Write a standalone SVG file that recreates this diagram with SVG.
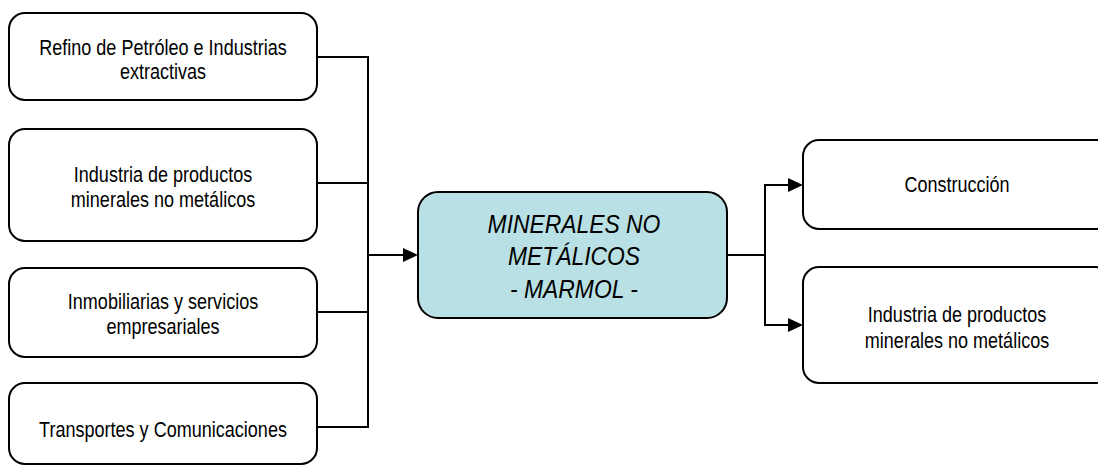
<svg xmlns="http://www.w3.org/2000/svg" width="1098" height="466" viewBox="0 0 1098 466">
<style>
.box{fill:#ffffff;stroke:#000000;stroke-width:2}
.center{fill:#b9e0e4;stroke:#000000;stroke-width:2}
.lbl{font-family:"Liberation Sans",Arial,sans-serif;font-size:22px;fill:#000000;text-anchor:middle}
.big{font-family:"Liberation Sans",Arial,sans-serif;font-size:26px;font-style:italic;fill:#000000;text-anchor:middle}
.ln{fill:none;stroke:#000000;stroke-width:2}
</style>
<rect width="1098" height="466" fill="#ffffff"/>
<g id="connectors">
<path class="ln" d="M317,57 H368 M317,183 H368 M317,312 H368 M317,427 H368 M368,56 V428"/>
<path class="ln" d="M368,255 H403"/>
<path d="M403,248 L418,255 L403,262 Z" fill="#000"/>
<path class="ln" d="M727,255 H765 M765,184 V326 M765,185 H790 M765,325 H790"/>
<path d="M788,178 L803,185 L788,192 Z" fill="#000"/>
<path d="M788,318 L803,325 L788,332 Z" fill="#000"/>
</g>
<g id="n1">
<rect class="box" x="9" y="13" width="308" height="87" rx="16"/>
<g transform="translate(163,0) scale(0.82,1)">
<text class="lbl" x="0" y="55">Refino de Petróleo e Industrias</text>
<text class="lbl" x="0" y="79">extractivas</text>
</g>
</g>
<g id="n2">
<rect class="box" x="9" y="129" width="308" height="112" rx="16"/>
<g transform="translate(163,0) scale(0.82,1)">
<text class="lbl" x="0" y="182">Industria de productos</text>
<text class="lbl" x="0" y="207">minerales no metálicos</text>
</g>
</g>
<g id="n3">
<rect class="box" x="9" y="268" width="308" height="89" rx="16"/>
<g transform="translate(163,0) scale(0.82,1)">
<text class="lbl" x="0" y="309">Inmobiliarias y servicios</text>
<text class="lbl" x="0" y="334">empresariales</text>
</g>
</g>
<g id="n4">
<rect class="box" x="9" y="383" width="308" height="81" rx="16"/>
<g transform="translate(163,0) scale(0.82,1)">
<text class="lbl" x="0" y="437">Transportes y Comunicaciones</text>
</g>
</g>
<g id="center">
<rect class="center" x="418" y="192" width="309" height="126" rx="20"/>
<g transform="translate(574,0) scale(0.88,1)">
<text class="big" x="0" y="233">MINERALES NO</text>
<text class="big" x="0" y="265">METÁLICOS</text>
<text class="big" x="0" y="298">- MARMOL -</text>
</g>
</g>
<g id="r1">
<rect class="box" x="803" y="140" width="310" height="89" rx="16"/>
<g transform="translate(957,0) scale(0.82,1)">
<text class="lbl" x="0" y="192">Construcción</text>
</g>
</g>
<g id="r2">
<rect class="box" x="803" y="267" width="308" height="116" rx="16"/>
<g transform="translate(957,0) scale(0.82,1)">
<text class="lbl" x="0" y="322">Industria de productos</text>
<text class="lbl" x="0" y="348">minerales no metálicos</text>
</g>
</g>
</svg>
